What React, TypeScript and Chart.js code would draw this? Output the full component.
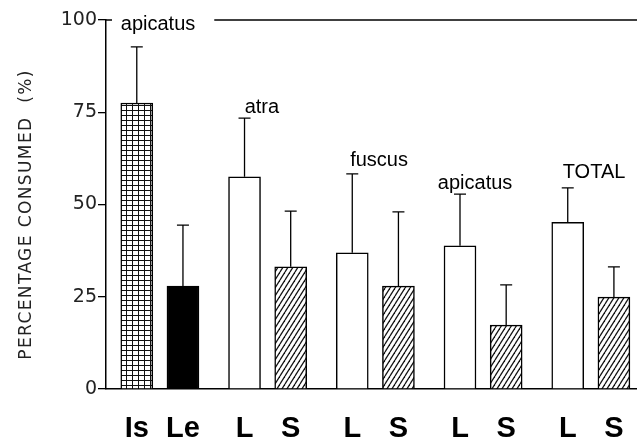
import React, { useEffect, useRef } from "react";
import { Chart, registerables } from "chart.js";

Chart.register(...registerables);

// ---- data ----
const categories = ["Is", "Le", "L", "S", "L", "S", "L", "S", "L", "S"];
const means = [77.5, 27.9, 57.5, 33.1, 36.9, 27.9, 38.8, 17.3, 45.2, 24.9];
const errorTops = [92.7, 44.4, 73.4, 48.2, 58.3, 48.0, 52.8, 28.2, 54.5, 33.1];
const groupLabels = ["apicatus", "atra", "fuscus", "apicatus", "TOTAL"];
const yTicks = [0, 25, 50, 75, 100];
const yTitle = "PERCENTAGE CONSUMED  (%)";

// ---- styles / layout (not data) ----
const fillKinds = ["grid", "solid", "open", "hatch", "open", "hatch", "open", "hatch", "open", "hatch"];
const groupLabelX = [3.38, 10.13, 17.74, 23.98, 31.71]; // annotation anchors, x-scale units
const groupLabelY = [97.3, 74.8, 60.4, 54.2, 57.2]; // annotation baselines, y-scale units
const slot = (i: number) => 2 + 7 * Math.floor(i / 2) + 3 * (i % 2);

function makeGridPattern(ctx: CanvasRenderingContext2D) {
  const c = document.createElement("canvas");
  c.width = 6;
  c.height = 5;
  const g = c.getContext("2d")!;
  g.fillStyle = "#fff";
  g.fillRect(0, 0, 6, 5);
  g.fillStyle = "#111";
  g.fillRect(0, 0, 1, 5);
  g.fillRect(0, 0, 6, 1);
  return ctx.createPattern(c, "repeat")!;
}

function makeHatchPattern(ctx: CanvasRenderingContext2D) {
  const w = 5,
    h = 8;
  const c = document.createElement("canvas");
  c.width = w;
  c.height = h;
  const g = c.getContext("2d")!;
  g.fillStyle = "#fff";
  g.fillRect(0, 0, w, h);
  g.strokeStyle = "#111";
  g.lineWidth = 1.3;
  for (const off of [-w, 0, w]) {
    g.beginPath();
    g.moveTo(off, h);
    g.lineTo(off + w, 0);
    g.stroke();
  }
  return ctx.createPattern(c, "repeat")!;
}

const annotationPlugin = {
  id: "annotations",
  afterDatasetsDraw(chart: any) {
    const { ctx, chartArea } = chart;
    const xs = chart.scales.x;
    const ys = chart.scales.y;
    const meta = chart.getDatasetMeta(0);
    ctx.save();
    // error bars
    ctx.strokeStyle = "#000";
    ctx.lineWidth = 1.3;
    meta.data.forEach((bar: any, i: number) => {
      const top = ys.getPixelForValue(errorTops[i]);
      ctx.beginPath();
      ctx.moveTo(bar.x, bar.y);
      ctx.lineTo(bar.x, top);
      ctx.moveTo(bar.x - 6, top);
      ctx.lineTo(bar.x + 6, top);
      ctx.stroke();
    });
    // group labels
    ctx.fillStyle = "#000";
    ctx.font = "20px 'Liberation Sans', Arial, sans-serif";
    ctx.textAlign = "center";
    ctx.textBaseline = "alphabetic";
    groupLabels.forEach((t, i) => {
      ctx.fillText(t, xs.getPixelForValue(groupLabelX[i]), ys.getPixelForValue(groupLabelY[i]));
    });
    // top frame line (interrupted by first label)
    const firstW = ctx.measureText(groupLabels[0]).width;
    const yTop = ys.getPixelForValue(100);
    const startX = xs.getPixelForValue(groupLabelX[0]) + firstW / 2 + 19;
    ctx.lineWidth = 1.5;
    ctx.beginPath();
    ctx.moveTo(startX, yTop);
    ctx.lineTo(chartArea.right, yTop);
    ctx.stroke();
    // cap on axis top
    ctx.beginPath();
    ctx.moveTo(chartArea.left, yTop);
    ctx.lineTo(chartArea.left + 6, yTop);
    ctx.stroke();
    // y title
    ctx.translate(27, (chartArea.top + chartArea.bottom) / 2 + 10);
    ctx.rotate(-Math.PI / 2);
    ctx.font = "17px 'DejaVu Sans', sans-serif";
    (ctx as any).letterSpacing = "1.4px";
    ctx.fillStyle = "#222";
    ctx.textBaseline = "middle";
    ctx.textAlign = "center";
    ctx.fillText(yTitle, 0, 0);
    ctx.restore();
  },
};

export default function App() {
  const ref = useRef<HTMLCanvasElement | null>(null);

  useEffect(() => {
    document.body.style.margin = "0";
    const canvas = ref.current!;
    const ctx = canvas.getContext("2d")!;
    const grid = makeGridPattern(ctx);
    const hatch = makeHatchPattern(ctx);
    const fills = fillKinds.map((k) =>
      k === "grid" ? grid : k === "hatch" ? hatch : k === "solid" ? "#000" : "#fff"
    );

    const chart = new Chart(canvas, {
      type: "bar",
      data: {
        datasets: [
          {
            data: categories.map((_, i) => ({ x: slot(i), y: means[i] })),
            backgroundColor: fills as any,
            borderColor: "#000",
            borderWidth: 1.5,
            barThickness: 32,
          } as any,
        ],
      },
      options: {
        responsive: false,
        animation: false,
        layout: { padding: { top: 20, left: 0, right: 0, bottom: 0 } },
        plugins: { legend: { display: false }, tooltip: { enabled: false } },
        scales: {
          x: {
            type: "linear",
            offset: false,
            min: 0,
            max: 34.5,
            afterBuildTicks: (axis: any) => {
              axis.ticks = categories.map((_, i) => ({ value: slot(i) }));
            },
            afterFit: (s: any) => {
              s.height = 53;
              s.paddingLeft = 0;
              s.paddingRight = 0;
            },
            ticks: {
              autoSkip: false,
              maxRotation: 0,
              padding: 15,
              color: "#000",
              font: { family: "'Liberation Sans', Arial, sans-serif", weight: "bold", size: 29 },
              callback: (_v: any, i: number) => categories[i],
            },
            grid: { display: false },
            border: { color: "#000", width: 1.5 },
          },
          y: {
            min: 0,
            max: 100,
            afterBuildTicks: (axis: any) => {
              axis.ticks = yTicks.map((v) => ({ value: v }));
            },
            afterFit: (s: any) => {
              s.width = 106;
              s.paddingTop = 0;
              s.paddingBottom = 0;
            },
            ticks: {
              padding: 1,
              color: "#222",
              font: { family: "'DejaVu Sans', sans-serif", size: 19 },
            },
            grid: { drawOnChartArea: false, drawTicks: true, tickLength: 8, color: "#000", lineWidth: 1.3 },
            border: { color: "#000", width: 1.5 },
          },
        },
      },
      plugins: [annotationPlugin],
    } as any);

    return () => chart.destroy();
  }, []);

  return (
    <div style={{ width: 637, height: 442, background: "#fff" }}>
      <canvas ref={ref} width={637} height={442} style={{ display: "block" }} />
    </div>
  );
}
